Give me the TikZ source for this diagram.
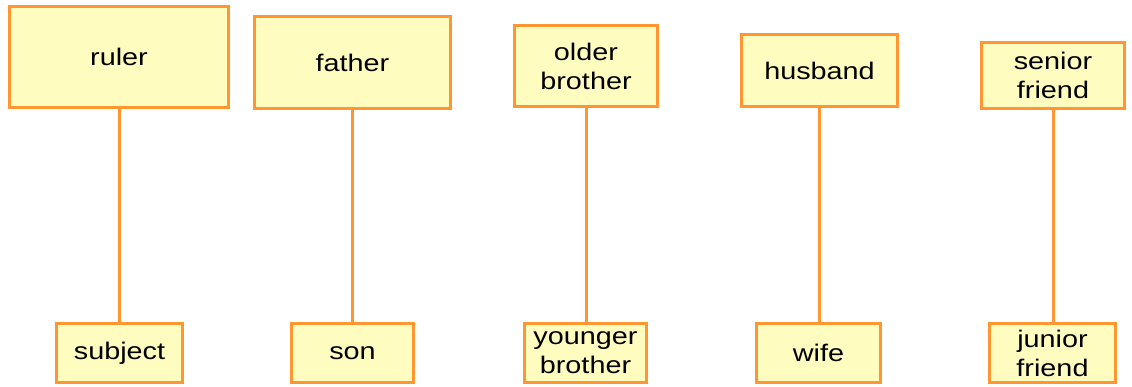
\documentclass[tikz,border=0pt]{standalone}
\usepackage{fontspec}
\setmainfont[FakeStretch=1.2]{Liberation Sans}
\definecolor{boxfill}{RGB}{255,252,192}
\definecolor{boxline}{RGB}{255,150,50}
\tikzset{
  role/.style = {draw=boxline, fill=boxfill, line width=3pt,
                 align=center, inner sep=0pt,
                 font=\fontsize{24}{29}\selectfont},
  link/.style = {draw=boxline, line width=3pt}
}

\begin{document}
\begin{tikzpicture}[x=1pt,y=-1pt]
	\def \ybot{353}
	\def \hbot{59pt}
	
	\useasboundingbox (0,0) rectangle (1132,387);
	
	% Upper row
	\node[role, minimum width=219pt, minimum height=101pt] (ruler)   at (119,57)    {ruler};
	\node[role, minimum width=196pt, minimum height=92pt]  (father)  at (352.5,62.5) {father};
	\node[role, minimum width=143pt, minimum height=81pt]  (older)   at (586,66)    {older\\brother};
	\node[role, minimum width=156pt, minimum height=72pt]  (husband) at (819.5,70.5) {husband};
	\node[role, minimum width=143pt, minimum height=66pt]  (senior)  at (1053,75.5) {senior\\friend};
	
	% Lower row
	\node[role, minimum width=126pt, minimum height=\hbot] (subject) at (119.5,\ybot)  {subject};
	\node[role, minimum width=122pt, minimum height=\hbot] (son)     at (352.5,\ybot)  {son};
	\node[role, minimum width=122pt, minimum height=\hbot] (younger) at (585.5,\ybot)  {younger\\brother};
	\node[role, minimum width=124pt, minimum height=\hbot] (wife)    at (818.5,\ybot)  {wife};
	\node[role, minimum width=126pt, minimum height=\hbot] (junior)  at (1052.5,\ybot) {junior\\friend};
	
	% Links (kept vertical)
	\draw[link] (ruler.south)   -- (ruler.south |- subject.north);
	\draw[link] (father.south)  -- (father.south |- son.north);
	\draw[link] (older.south)   -- (older.south |- younger.north);
	\draw[link] (husband.south) -- (husband.south |- wife.north);
	\draw[link] (senior.south)  -- (senior.south |- junior.north);
	
\end{tikzpicture}
\end{document}
